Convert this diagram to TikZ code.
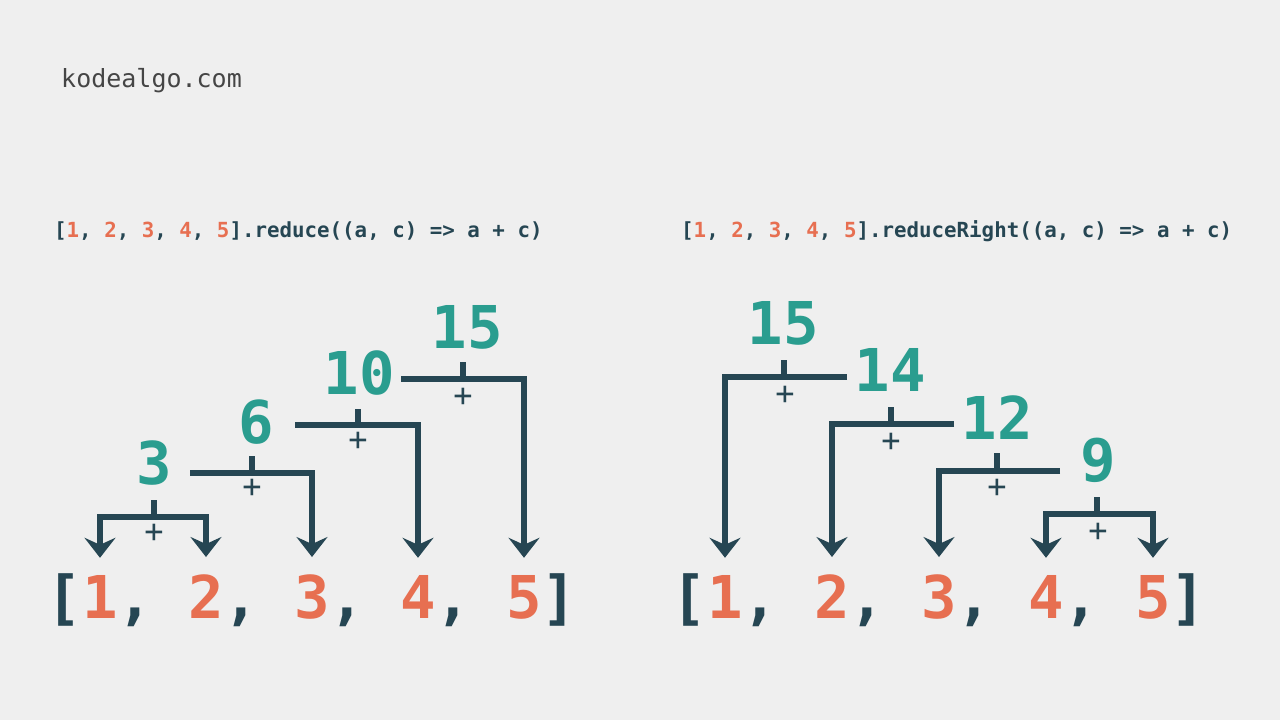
\documentclass[tikz,border=0pt]{standalone}
\usepackage{fontspec}
\usepackage{xcolor}
\usetikzlibrary{arrows.meta,positioning}
\newfontfamily\codefont{DejaVu Sans Mono}
\definecolor{bg}{HTML}{EFEFEF}
\definecolor{ink}{HTML}{264653}
\definecolor{leaf}{HTML}{E76F51}
\definecolor{total}{HTML}{2A9D8F}
\definecolor{brand}{HTML}{454545}
\newcommand\bigcode{\codefont\bfseries\fontsize{59}{59}\selectfont}
\newcommand\smallcode{\codefont\bfseries\fontsize{20.8}{20.8}\selectfont}
\newcommand\pluscode{\codefont\fontsize{32}{32}\selectfont}
\newcommand\lf[1]{\textcolor{leaf}{#1}}
\tikzset{
  bar/.style={draw=ink, line width=6.5pt},
  arr/.style={bar, -{Stealth[length=20pt, width=31pt, inset=7pt]}, shorten >=17pt},
  leafnum/.style={font=\bigcode, text=leaf, inner sep=0pt, anchor=base},
  punct/.style={font=\bigcode, text=ink, inner sep=0pt, anchor=base},
  sum/.style={font=\bigcode, text=total, inner sep=0pt},
  plus/.style={font=\pluscode, text=ink, inner sep=0pt},
  code/.style={font=\smallcode, text=ink, inner sep=0pt, anchor=base west},
}
\begin{document}
\begin{tikzpicture}[x=1pt, y=-1pt]
\useasboundingbox[fill=bg] (0,0) rectangle (1280,720);
\node[anchor=base west, inner sep=0pt, font=\codefont\fontsize{25}{25}\selectfont, text=brand] (site) at (61,87) {kodealgo.com};
\node[code] (codel) at (54,237) {[\lf{1}, \lf{2}, \lf{3}, \lf{4}, \lf{5}].reduce((a, c) => a + c)};
\node[code] (coder) at (681,237) {[\lf{1}, \lf{2}, \lf{3}, \lf{4}, \lf{5}].reduceRight((a, c) => a + c)};

% reduce: left array
\node[punct] (lo) at (64.5,618) {[};
\foreach \i in {1,...,5}
  \node[leafnum] (l\i) at ({100+(\i-1)*106},618) {\i};
\foreach \i in {1,...,4}
  \node[punct] (lc\i) at ({135.5+(\i-1)*106},618) {,};
\node[punct] (lz) at (559.5,618) {]};

\node[sum] (ls3) at (154,463) {3};
\node[sum] (ls6) at (256,422) {6};
\node[sum] (ls10) at (359,373) {10};
\node[sum] (ls15) at (467,327) {15};

\coordinate (lj3) at (154,517);
\coordinate (lj6) at (252,473);   \coordinate (le6) at (190,473);
\coordinate (lj10) at (358,425);  \coordinate (le10) at (295,425);
\coordinate (lj15) at (463,379);  \coordinate (le15) at (401,379);

\draw[bar] (lj3) -- ++(0,-17);
\draw[arr] (lj3) -| (l1.north);
\draw[arr] (lj3) -| (l2.north);
\draw[bar] (lj6) -- ++(0,-17);
\draw[arr] (le6) -| (l3.north);
\draw[bar] (lj10) -- ++(0,-16);
\draw[arr] (le10) -| (l4.north);
\draw[bar] (lj15) -- ++(0,-17);
\draw[arr] (le15) -| (l5.north);

\node[plus] (lp3) at (154,533) {+};
\node[plus] (lp6) at (252,488) {+};
\node[plus] (lp10) at (358,441) {+};
\node[plus] (lp15) at (463,397) {+};

% reduceRight: right array
\node[punct] (ro) at (689.5,618) {[};
\foreach \i in {1,...,5}
  \node[leafnum] (r\i) at ({725+(\i-1)*107},618) {\i};
\foreach \i in {1,...,4}
  \node[punct] (rc\i) at ({760.5+(\i-1)*107},618) {,};
\node[punct] (rz) at (1188.5,618) {]};

\node[sum] (rs15) at (783,323) {15};
\node[sum] (rs14) at (890,370) {14};
\node[sum] (rs12) at (997,418) {12};
\node[sum] (rs9) at (1098,460) {9};

\coordinate (rj15) at (784,377);  \coordinate (re15) at (847,377);
\coordinate (rj14) at (891,424);  \coordinate (re14) at (954,424);
\coordinate (rj12) at (997,471);  \coordinate (re12) at (1060,471);
\coordinate (rj9) at (1097,514);

\draw[bar] (rj15) -- ++(0,-17);
\draw[arr] (re15) -| (r1.north);
\draw[bar] (rj14) -- ++(0,-17);
\draw[arr] (re14) -| (r2.north);
\draw[bar] (rj12) -- ++(0,-18);
\draw[arr] (re12) -| (r3.north);
\draw[bar] (rj9) -- ++(0,-17);
\draw[arr] (rj9) -| (r4.north);
\draw[arr] (rj9) -| (r5.north);

\node[plus] (rp15) at (785,395) {+};
\node[plus] (rp14) at (891,442) {+};
\node[plus] (rp12) at (997,488) {+};
\node[plus] (rp9) at (1098,532) {+};
\end{tikzpicture}
\end{document}
